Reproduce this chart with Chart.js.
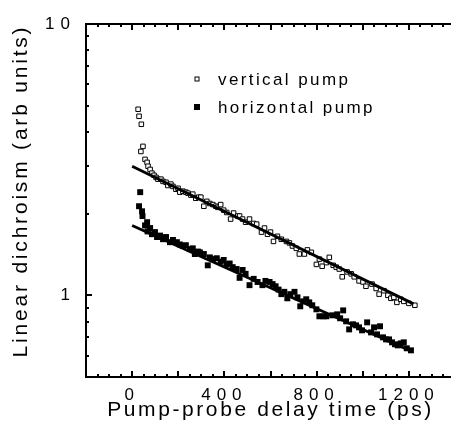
<!DOCTYPE html>
<html><head><meta charset="utf-8">
<script src="https://cdn.jsdelivr.net/npm/chart.js@4.4.1/dist/chart.umd.min.js"></script>
<style>html,body{margin:0;padding:0;background:#fff;overflow:hidden}#wrap{width:451px;height:445px;overflow:hidden;position:relative}canvas{display:block}</style>
</head><body><div id="wrap"><canvas id="c" width="460" height="445"></canvas></div>
<script>
// ---- data ----
const seriesNames = ['vertical pump', 'horizontal pump'];
const vertTime = [26,30,38,40,47,56,65,69,78,86,95,104,112,125,134,147,155,168,177,190,199,207,220,233,242,255,263,276,289,298,311,324,337,350,363,371,384,397,410,427,440,458,466,479,492,509,527,540,561,574,587,600,613,630,647,669,682,695,712,725,747,760,777,799,812,824,842,855,872,885,898,911,932,950,963,984,1001,1014,1040,1058,1071,1092,1109,1122,1135,1148,1165,1178,1200,1226];
const vertSignal = [4.85,4.57,3.39,4.27,3.54,3.17,3.09,2.99,2.91,2.82,2.77,2.72,2.68,2.68,2.63,2.61,2.54,2.57,2.52,2.46,2.48,2.40,2.42,2.40,2.38,2.34,2.36,2.28,2.30,2.30,2.13,2.22,2.18,2.16,2.13,2.11,2.16,2.06,2.02,1.91,2.01,1.96,1.96,1.91,1.86,1.91,1.84,1.83,1.71,1.77,1.68,1.71,1.58,1.65,1.61,1.58,1.56,1.52,1.49,1.42,1.42,1.47,1.44,1.30,1.36,1.28,1.32,1.38,1.29,1.27,1.25,1.17,1.22,1.20,1.17,1.13,1.12,1.08,1.10,1.06,1.01,1.04,1.00,0.975,0.983,0.942,0.967,0.950,0.934,0.919];
const horizTime = [30,35,43,45,56,65,67,78,86,99,108,121,134,147,164,177,194,207,220,233,250,263,272,285,294,311,328,337,350,367,384,397,410,423,436,453,466,479,492,509,527,544,565,578,596,609,622,635,647,660,673,686,704,717,729,742,755,768,781,799,812,829,842,868,889,902,915,928,941,958,971,984,997,1019,1036,1049,1062,1075,1088,1101,1114,1127,1140,1152,1165,1178,1191,1209];
const horizSignal = [2.13,2.40,2.04,1.96,1.81,1.86,1.72,1.77,1.68,1.71,1.64,1.66,1.61,1.64,1.57,1.60,1.57,1.54,1.52,1.53,1.48,1.49,1.42,1.45,1.44,1.42,1.29,1.38,1.36,1.37,1.33,1.35,1.30,1.31,1.27,1.25,1.16,1.24,1.20,1.09,1.15,1.12,1.09,1.13,1.12,1.10,1.08,1.05,1.01,1.03,0.975,1.01,1.03,0.983,0.911,0.950,0.967,0.942,0.919,0.888,0.837,0.837,0.837,0.844,0.851,0.823,0.880,0.802,0.749,0.782,0.775,0.762,0.743,0.795,0.730,0.762,0.718,0.769,0.700,0.688,0.688,0.671,0.660,0.654,0.665,0.671,0.638,0.627];
const vertFitTime = [0, 1220];
const vertFitSignal = [2.99, 0.93];
const horizFitTime = [0, 1215];
const horizFitSignal = [1.81, 0.62];
const xTickLabels = [0, 400, 800, 1200];
const yTickLabels = [1, 10];
const xTitle = 'Pump-probe delay time (ps)';
const yTitle = 'Linear dichroism (arb units)';

const FONT = "'Liberation Sans', Arial, Helvetica, sans-serif";
const pts = (xs, ys) => xs.map((t, i) => ({x: t, y: ys[i]}));

const framePlugin = {
  id: 'frame',
  beforeDraw(chart) { chart.ctx.letterSpacing = '2.6px'; },
  afterDatasetsDraw(chart) {
    const {ctx, chartArea: a, scales: {x, y}} = chart;
    ctx.save();
    ctx.strokeStyle = '#000';
    ctx.lineWidth = 2;
    ctx.lineCap = 'butt';
    ctx.strokeRect(a.left, a.top, a.right - a.left, a.bottom - a.top);
    ctx.beginPath();
    for (let t = x.min; t <= x.max; t += 50) {
      const px = Math.round(x.getPixelForValue(t));
      const len = (t % 200 === 0) ? 6 : 3;
      ctx.moveTo(px, a.bottom); ctx.lineTo(px, a.bottom - len);
      ctx.moveTo(px, a.top); ctx.lineTo(px, a.top + len);
    }
    const yv = [0.6,0.7,0.8,0.9,1,2,3,4,5,6,7,8,9,10];
    for (const v of yv) {
      const py = Math.round(y.getPixelForValue(v));
      const len = (v === 1 || v === 10) ? 6 : 3;
      ctx.moveTo(a.left, py); ctx.lineTo(a.left + len, py);
    }
    ctx.stroke();
    ctx.restore();
    ctx.letterSpacing = '6px';
  },
  afterDraw(chart) {
    const {ctx} = chart;
    ctx.save();
    // y axis title
    ctx.letterSpacing = '2.8px';
    ctx.font = '21px ' + FONT;
    ctx.fillStyle = '#000';
    ctx.textAlign = 'center';
    ctx.textBaseline = 'middle';
    ctx.save();
    ctx.translate(21, 191);
    ctx.rotate(-Math.PI / 2);
    ctx.fillText(yTitle, 0, 0);
    ctx.restore();
    // legend
    ctx.letterSpacing = '2.4px';
    ctx.font = '17px ' + FONT;
    ctx.textAlign = 'left';
    const items = [chart.data.datasets[2], chart.data.datasets[3]];
    const rows = [79, 107];
    items.forEach((ds, i) => {
      const cx = 197, cy = rows[i];
      const s = i === 0 ? 4 : 6;
      if (i === 0) {
        ctx.fillStyle = '#fff'; ctx.fillRect(cx - s/2, cy - s/2, s, s);
        ctx.strokeStyle = '#000'; ctx.lineWidth = 1; ctx.strokeRect(cx - s/2, cy - s/2, s, s);
      } else {
        ctx.fillStyle = '#000'; ctx.fillRect(cx - s/2, cy - s/2, s, s);
      }
      ctx.fillStyle = '#000';
      ctx.fillText(ds.label, 218, cy + 1);
    });
    ctx.restore();
  }
};

new Chart(document.getElementById('c'), {
  type: 'scatter',
  data: {
    datasets: [
      {label: 'fit vertical', data: pts(vertFitTime, vertFitSignal), showLine: true, borderColor: '#000', borderWidth: 2.8, pointRadius: 0, fill: false},
      {label: 'fit horizontal', data: pts(horizFitTime, horizFitSignal), showLine: true, borderColor: '#000', borderWidth: 2.8, pointRadius: 0, fill: false},
      {label: seriesNames[0], data: pts(vertTime, vertSignal), pointStyle: 'rect', pointRadius: 3.2, backgroundColor: '#fff', borderColor: '#000', borderWidth: 1},
      {label: seriesNames[1], data: pts(horizTime, horizSignal), pointStyle: 'rect', pointRadius: 4.2, backgroundColor: '#000', borderColor: '#000', borderWidth: 0}
    ]
  },
  options: {
    responsive: false,
    animation: false,
    devicePixelRatio: 1,
    layout: {padding: {top: 24, right: 4, left: 0, bottom: 0}},
    plugins: {legend: {display: false}, tooltip: {enabled: false}},
    scales: {
      x: {
        type: 'linear', min: -200, max: 1400,
        grid: {display: false, drawTicks: false}, border: {display: false},
        afterBuildTicks: (s) => { s.ticks = xTickLabels.map(v => ({value: v})); },
        afterFit: (s) => { s.height = 68; },
        ticks: {z: 1, padding: 8, color: '#000', font: {family: FONT, size: 17}, maxRotation: 0, autoSkip: false, callback: (v) => String(v)},
        title: {display: true, text: xTitle, color: '#000', font: {family: FONT, size: 21}, padding: {top: 0, bottom: 22}}
      },
      y: {
        type: 'logarithmic', min: 0.5, max: 10,
        grid: {display: false, drawTicks: false}, border: {display: false},
        afterBuildTicks: (s) => { s.ticks = yTickLabels.map(v => ({value: v})); },
        afterFit: (s) => { s.width = 86; },
        ticks: {z: 1, padding: 10, color: '#000', font: {family: FONT, size: 17}, callback: (v) => String(v)},
        title: {display: false, text: yTitle}
      }
    }
  },
  plugins: [framePlugin]
});
</script>
</body></html>
